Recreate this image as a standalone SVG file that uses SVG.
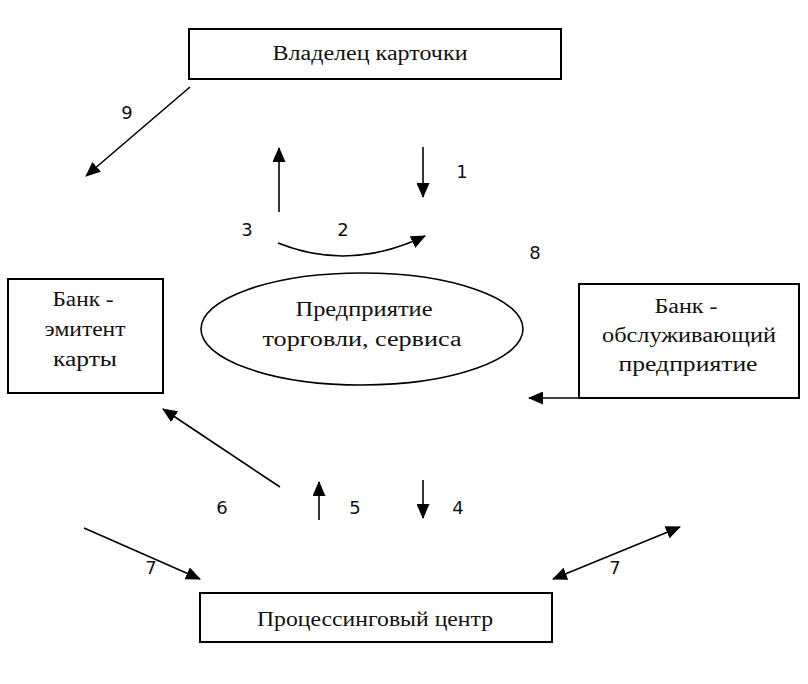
<svg xmlns="http://www.w3.org/2000/svg" width="808" height="684" viewBox="0 0 808 684">
<defs>
<marker id="ah" markerUnits="userSpaceOnUse" markerWidth="15" markerHeight="13" refX="14" refY="6.5" orient="auto-start-reverse">
<path d="M0,0 L15,6.5 L0,13 Z" fill="#000"/>
</marker>
<style>
.box{fill:#fff;stroke:#000;stroke-width:2}
.t{font-size:20px;fill:#111;text-anchor:middle}
.n{font-size:18px;fill:#111;text-anchor:middle}
.c{fill:none;stroke:#000;stroke-width:1.6}
</style>
</defs>
<rect width="808" height="684" fill="#fff"/>
<g id="cardholder" font-family="Liberation Serif, DejaVu Serif, serif">
<rect class="box" x="189" y="29" width="372" height="50"/>
<text class="t" x="370" y="60" textLength="195" lengthAdjust="spacingAndGlyphs">Владелец карточки</text>
</g>
<g id="issuer" font-family="Liberation Serif, DejaVu Serif, serif">
<rect class="box" x="8" y="279" width="155" height="114"/>
<text class="t" x="83" y="306" textLength="61" lengthAdjust="spacingAndGlyphs">Банк -</text>
<text class="t" x="85" y="336" textLength="81" lengthAdjust="spacingAndGlyphs">эмитент</text>
<text class="t" x="85" y="366" textLength="64" lengthAdjust="spacingAndGlyphs">карты</text>
</g>
<g id="merchant" font-family="Liberation Serif, DejaVu Serif, serif">
<ellipse cx="362" cy="329" rx="161" ry="56" fill="#fff" stroke="#000" stroke-width="1.6"/>
<text class="t" x="364" y="316" textLength="137" lengthAdjust="spacingAndGlyphs">Предприятие</text>
<text class="t" x="362" y="346" textLength="199" lengthAdjust="spacingAndGlyphs">торговли, сервиса</text>
</g>
<g id="acquirer" font-family="Liberation Serif, DejaVu Serif, serif">
<rect class="box" x="579" y="284" width="220" height="114"/>
<text class="t" x="686" y="313" textLength="63" lengthAdjust="spacingAndGlyphs">Банк -</text>
<text class="t" x="689" y="342" textLength="174" lengthAdjust="spacingAndGlyphs">обслуживающий</text>
<text class="t" x="688" y="371" textLength="139" lengthAdjust="spacingAndGlyphs">предприятие</text>
</g>
<g id="processing" font-family="Liberation Serif, DejaVu Serif, serif">
<rect class="box" x="200" y="593" width="352" height="49"/>
<text class="t" x="375" y="626" textLength="236" lengthAdjust="spacingAndGlyphs">Процессинговый центр</text>
</g>
<g id="connectors">
<line class="c" x1="190" y1="87" x2="86" y2="176" marker-end="url(#ah)"/>
<line class="c" x1="279" y1="212" x2="279" y2="148" marker-end="url(#ah)"/>
<line class="c" x1="423" y1="147" x2="423" y2="197" marker-end="url(#ah)"/>
<path class="c" d="M278,243 Q350,272 425,236" marker-end="url(#ah)"/>
<line class="c" x1="579" y1="398" x2="529" y2="398" marker-end="url(#ah)"/>
<line class="c" x1="280" y1="487" x2="163" y2="409" marker-end="url(#ah)"/>
<line class="c" x1="319" y1="520" x2="319" y2="482" marker-end="url(#ah)"/>
<line class="c" x1="423" y1="480" x2="423" y2="518" marker-end="url(#ah)"/>
<line class="c" x1="84" y1="528" x2="200" y2="579" marker-end="url(#ah)"/>
<line class="c" x1="553" y1="579" x2="680" y2="527" marker-start="url(#ah)" marker-end="url(#ah)"/>
</g>
<g id="labels" font-family="DejaVu Sans, sans-serif">
<text class="n" x="127" y="119">9</text>
<text class="n" x="462" y="178">1</text>
<text class="n" x="247" y="236">3</text>
<text class="n" x="343" y="236">2</text>
<text class="n" x="535" y="259">8</text>
<text class="n" x="222" y="514">6</text>
<text class="n" x="355" y="514">5</text>
<text class="n" x="458" y="514">4</text>
<text class="n" x="151" y="574">7</text>
<text class="n" x="615" y="574">7</text>
</g>
</svg>
